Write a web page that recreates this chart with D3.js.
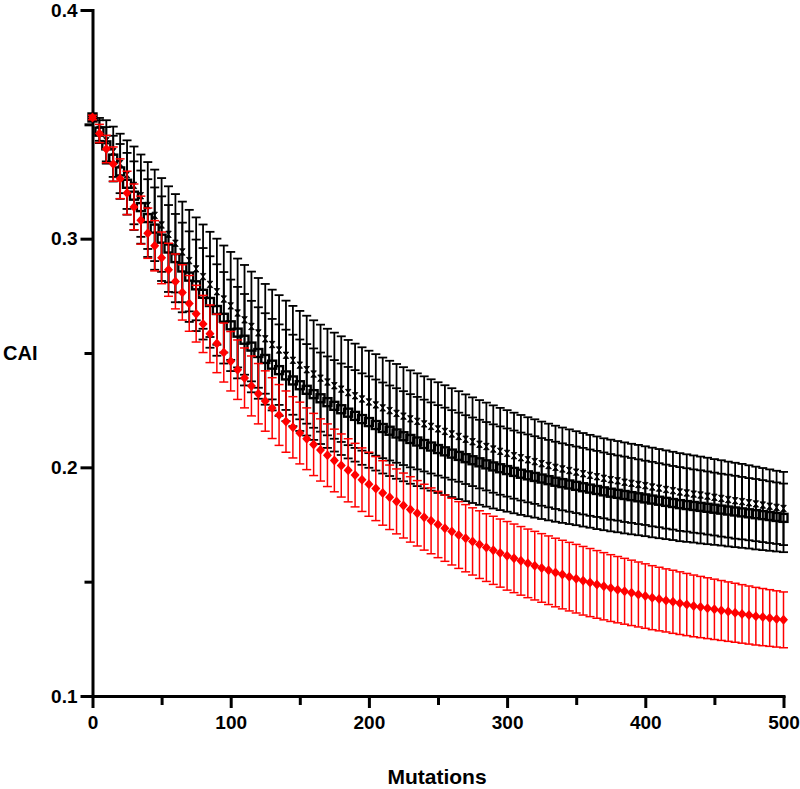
<!DOCTYPE html>
<html>
<head>
<meta charset="utf-8">
<script src="https://cdn.jsdelivr.net/npm/d3@7"></script>
<style>
  html, body { margin: 0; padding: 0; background: #fff; }
  svg { display: block; }
  text { font-family: "Liberation Sans", Arial, Helvetica, sans-serif; font-weight: bold; fill: #000; }
</style>
</head>
<body>
<svg id="chart" width="800" height="789"></svg>
<script>
// ---- data ----
const mutations = [0,5,10,15,20,25,30,35,40,45,50,55,60,65,70,75,80,85,90,95,100,
  105,110,115,120,125,130,135,140,145,150,155,160,165,170,175,180,185,190,195,200,
  205,210,215,220,225,230,235,240,245,250,255,260,265,270,275,280,285,290,295,300,
  305,310,315,320,325,330,335,340,345,350,355,360,365,370,375,380,385,390,395,400,
  405,410,415,420,425,430,435,440,445,450,455,460,465,470,475,480,485,490,495,500];

const xTicks = [0,100,200,300,400,500];
const xMinorTicks = [50,150,250,350,450];
const yTicks = [0.1,0.2,0.3,0.4];
const yMinorTicks = [0.15,0.25,0.35];

// black open squares series
const squaresMean = [0.3530,0.3468,0.3408,0.3350,0.3294,0.3240,0.3188,0.3138,0.3090,0.3044,0.3000,
  0.2957,0.2915,0.2874,0.2834,0.2796,0.2759,0.2723,0.2688,0.2654,0.2621,
  0.2589,0.2558,0.2528,0.2500,0.2474,0.2449,0.2425,0.2402,0.2380,0.2359,
  0.2339,0.2320,0.2302,0.2285,0.2269,0.2254,0.2239,0.2225,0.2211,0.2198,
  0.2185,0.2172,0.2160,0.2148,0.2136,0.2124,0.2113,0.2102,0.2091,0.2080,
  0.2070,0.2060,0.2050,0.2040,0.2031,0.2022,0.2013,0.2004,0.1996,0.1988,
  0.1980,0.1972,0.1965,0.1958,0.1951,0.1944,0.1937,0.1931,0.1925,0.1919,
  0.1913,0.1907,0.1901,0.1895,0.1889,0.1884,0.1879,0.1874,0.1869,0.1864,
  0.1859,0.1854,0.1849,0.1844,0.1839,0.1835,0.1831,0.1827,0.1823,0.1819,
  0.1815,0.1811,0.1807,0.1803,0.1799,0.1795,0.1791,0.1787,0.1783,0.1779];
const squaresSD = [0.001,0.005,0.008,0.010,0.012,0.0135,0.015,0.016,0.017,0.018,0.0185,
  0.019,0.0193,0.0196,0.0198,0.020,0.020,
  0.020,0.020,0.020,0.020,0.020,0.020,0.020,0.020,0.020,0.020,0.020,0.020,
  0.020,0.020,0.020,0.020,0.020,0.020,0.020,0.020,0.020,0.020,0.020,0.020,
  0.0199,0.0199,0.0198,0.0198,0.0197,0.0196,0.0195,0.0194,0.0193,0.0192,0.0191,0.019,0.0189,0.0188,0.0187,0.0186,0.0185,0.0184,
  0.0183,0.0182,0.0181,0.018,0.0179,0.0178,0.0177,0.0176,0.0175,0.0174,0.0173,0.0172,0.0172,0.0171,0.0171,0.017,
  0.0169,0.0168,0.0168,0.0167,0.0166,0.0165,0.0165,0.0164,0.0163,0.0162,0.0162,0.0161,0.016,0.016,0.0159,0.0158,0.0157,0.0157,0.0156,0.0155,0.0154,0.0154,0.0153,0.0152,0.0151,0.015];

// black small-marker series
const dotsMean = [0.3530,0.3478,0.3428,0.3380,0.3329,0.3280,0.3233,0.3188,0.3145,0.3102,0.3060,
  0.3019,0.2980,0.2942,0.2904,0.2868,0.2834,0.2800,0.2768,0.2736,0.2706,
  0.2675,0.2645,0.2616,0.2588,0.2562,0.2537,0.2513,0.2490,0.2468,0.2447,
  0.2427,0.2408,0.2390,0.2373,0.2357,0.2342,0.2327,0.2313,0.2299,0.2286,
  0.2273,0.2260,0.2248,0.2236,0.2224,0.2212,0.2201,0.2190,0.2179,0.2168,
  0.2157,0.2146,0.2135,0.2123,0.2112,0.2101,0.2091,0.2080,0.2070,0.2061,
  0.2051,0.2042,0.2033,0.2025,0.2016,0.2008,0.2000,0.1993,0.1986,0.1979,
  0.1972,0.1965,0.1959,0.1952,0.1946,0.1941,0.1935,0.1930,0.1925,0.1920,
  0.1914,0.1909,0.1903,0.1898,0.1892,0.1888,0.1883,0.1879,0.1874,0.1869,
  0.1864,0.1859,0.1854,0.1850,0.1845,0.1840,0.1835,0.1830,0.1825,0.1820];
const dotsSD = [0.001,0.005,0.009,0.011,0.013,0.015,0.017,0.018,0.019,0.020,0.0205,
  0.021,0.0215,0.022,0.0222,0.0225,0.0228,
  0.023,0.0232,0.0234,0.0236,0.0238,0.024,0.024,0.024,0.024,0.024,0.024,0.0239,0.0238,0.0237,0.0236,0.0235,0.0234,0.0233,0.0232,0.0231,0.023,0.0228,0.0226,0.0224,
  0.0222,0.022,0.0218,0.0216,0.0214,0.0212,0.021,0.0208,0.0206,0.0204,0.0202,0.02,0.0198,0.0196,0.0194,0.0193,0.0192,0.0191,
  0.019,0.0189,0.0188,0.0187,0.0186,0.0185,0.0184,0.0183,0.0182,0.0181,0.018,0.0179,0.0178,0.0177,0.0176,0.0175,
  0.0175,0.0174,0.0174,0.0173,0.0173,0.0172,0.0172,0.0171,0.0171,0.017,0.017,0.0169,0.0169,0.0168,0.0168,0.0167,0.0167,0.0166,0.0166,0.0165,0.0164,0.0163,0.0162,0.0161,0.016,0.016];

// red diamond series
const redMean = [0.3530,0.3460,0.3392,0.3326,0.3262,0.3200,0.3139,0.3081,0.3024,0.2969,0.2916,
  0.2864,0.2813,0.2765,0.2717,0.2672,0.2627,0.2584,0.2542,0.2502,0.2464,
  0.2427,0.2391,0.2356,0.2322,0.2290,0.2259,0.2229,0.2200,0.2175,0.2150,
  0.2125,0.2100,0.2076,0.2053,0.2030,0.2008,0.1987,0.1966,0.1946,0.1926,
  0.1907,0.1888,0.1869,0.1851,0.1833,0.1816,0.1799,0.1782,0.1766,0.1750,
  0.1734,0.1719,0.1704,0.1690,0.1676,0.1662,0.1649,0.1637,0.1625,0.1613,
  0.1602,0.1591,0.1580,0.1570,0.1560,0.1550,0.1540,0.1531,0.1522,0.1513,
  0.1504,0.1496,0.1488,0.1480,0.1472,0.1465,0.1458,0.1451,0.1444,0.1437,
  0.1430,0.1424,0.1418,0.1412,0.1406,0.1400,0.1394,0.1389,0.1384,0.1379,
  0.1374,0.1369,0.1364,0.1359,0.1354,0.1349,0.1345,0.1341,0.1337,0.1333];
const redSD = [0.001,0.004,0.006,0.0075,0.0087,0.0095,0.010,0.0105,0.011,0.011,0.0113,
  0.0116,0.012,0.0121,0.0122,0.0124,0.0125,0.0126,0.0128,0.0129,0.013,
  0.013,0.0131,0.0131,0.0132,0.0132,0.0133,0.0133,0.0134,0.0134,0.0135,
  0.0135,0.0136,0.0136,0.0137,0.0137,0.0138,0.0138,0.0139,0.0139,0.014,
  0.014,0.0141,0.0141,0.0142,0.0142,0.0143,0.0143,0.0144,0.0144,0.0145,
  0.0145,0.0146,0.0146,0.0147,0.0147,0.0148,0.0148,0.0149,0.0149,0.015,
  0.015,0.015,0.015,0.015,0.015,0.015,0.015,0.015,0.015,0.015,
  0.015,0.0149,0.0148,0.0147,
  0.0146,0.0145,0.0144,0.0143,0.0142,0.0141,0.014,0.0139,0.0138,0.0138,
  0.0137,0.0136,0.0135,0.0134,0.0133,0.0132,0.0131,0.013,
  0.0129,0.0128,0.0127,0.0126,0.0125,0.0124,0.0123,0.0122];

const xLabel = "Mutations";
const yLabel = "CAI";

// ---- drawing ----
const svg = d3.select("#chart");
const x = d3.scaleLinear().domain([0, 500]).range([92.5, 783.5]);
const y = d3.scaleLinear().domain([0.1, 0.4]).range([696, 10]);

function styleAxis(g) {
  g.selectAll("path.domain").attr("stroke", "#000").attr("stroke-width", 3).attr("stroke-linecap", "square");
  g.selectAll(".tick line").attr("stroke", "#000").attr("stroke-width", 3);
  g.selectAll(".tick text").style("font-size", "19px").style("font-weight", "bold")
    .style("font-family", '"Liberation Sans", Arial, sans-serif').attr("fill", "#000");
}

// minor ticks
svg.append("g").attr("transform", `translate(${x(0)},0)`)
  .call(d3.axisLeft(y).tickValues(yMinorTicks).tickSize(8).tickFormat(""))
  .call(styleAxis).call(g => g.select(".domain").remove());
svg.append("g").attr("transform", `translate(0,${y(0.1)})`)
  .call(d3.axisBottom(x).tickValues(xMinorTicks).tickSize(9).tickFormat(""))
  .call(styleAxis).call(g => g.select(".domain").remove());

// major axes
svg.append("g").attr("transform", `translate(${x(0)},0)`)
  .call(d3.axisLeft(y).tickValues(yTicks).tickSize(12).tickSizeOuter(0).tickPadding(3).tickFormat(d3.format(".1f")))
  .call(styleAxis);
svg.append("g").attr("transform", `translate(0,${y(0.1)})`)
  .call(d3.axisBottom(x).tickValues(xTicks).tickSize(12).tickSizeOuter(0).tickPadding(8).tickFormat(d3.format("d")))
  .call(styleAxis);

// axis titles
svg.append("text").attr("x", 3).attr("y", 360).style("font-size", "20px").text(yLabel);
svg.append("text").attr("x", 437).attr("y", 784).attr("text-anchor", "middle").style("font-size", "21px").text(xLabel);

function errorBars(means, sds, color, width, capHalf) {
  const g = svg.append("g").attr("stroke", color).attr("stroke-width", width).attr("fill", "none");
  mutations.forEach((m, i) => {
    const cx = x(m), top = y(means[i] + sds[i]), bot = y(means[i] - sds[i]);
    g.append("line").attr("x1", cx).attr("x2", cx).attr("y1", top).attr("y2", bot);
    g.append("line").attr("x1", cx - capHalf).attr("x2", cx + capHalf).attr("y1", top).attr("y2", top);
    g.append("line").attr("x1", cx - capHalf).attr("x2", cx + capHalf).attr("y1", bot).attr("y2", bot);
  });
}

// black series
errorBars(dotsMean, dotsSD, "#000", 1.8, 4.5);
errorBars(squaresMean, squaresSD, "#000", 1.8, 4.5);

svg.append("g").selectAll("path").data(mutations).join("path")
  .attr("d", "M-2.8,-3.2L2.8,-3.2L-2.8,3.2L2.8,3.2Z")
  .attr("transform", (m, i) => `translate(${x(m)},${y(dotsMean[i])})`)
  .attr("fill", "#000").attr("stroke", "#000").attr("stroke-width", 0.8);

svg.append("g").selectAll("rect").data(mutations).join("rect")
  .attr("x", m => x(m) - 4).attr("y", (m, i) => y(squaresMean[i]) - 4)
  .attr("width", 8).attr("height", 8)
  .attr("fill", "none").attr("stroke", "#000").attr("stroke-width", 2.4);

// red series
errorBars(redMean, redSD, "#ff0000", 1.5, 4.5);
svg.append("g").selectAll("path").data(mutations).join("path")
  .attr("d", "M0,-5L4.5,0L0,5L-4.5,0Z")
  .attr("transform", (m, i) => `translate(${x(m)},${y(redMean[i])})`)
  .attr("fill", "#ff0000");
</script>
</body>
</html>
